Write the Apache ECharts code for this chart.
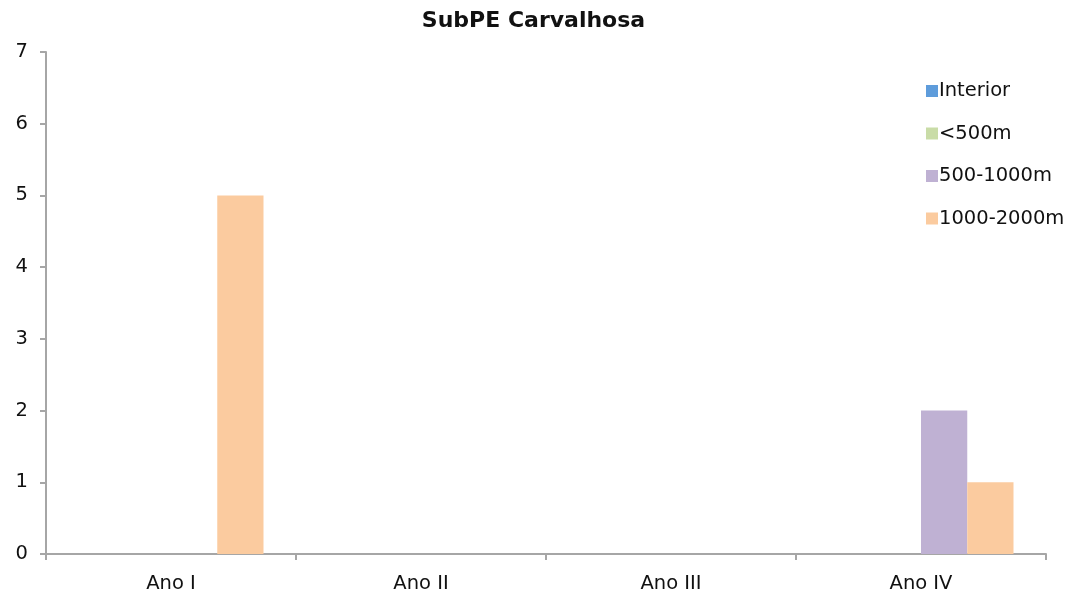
<!DOCTYPE html>
<html>
<head>
<meta charset="utf-8" />
<title>SubPE Carvalhosa</title>
<script src="https://cdn.jsdelivr.net/npm/echarts@6/dist/echarts.min.js"></script>
<style>
  html, body { margin: 0; padding: 0; background: #fff; }
  #main { width: 1067px; height: 594px; }
</style>
</head>
<body>
<div id="main"></div>
<script>
// categorias e valores
var anos = ['Ano I', 'Ano II', 'Ano III', 'Ano IV'];
var interior = [0, 0, 0, 0];
var ate500 = [0, 0, 0, 0];
var de500a1000 = [0, 0, 0, 2];
var de1000a2000 = [5, 0, 0, 1];

var fonte = '"DejaVu Sans", sans-serif';
var eixoCor = '#a6a6a6';

var myChart = echarts.init(document.getElementById('main'));

function serie(nome, dados, cor) {
	return {
		name: nome,
		type: 'bar',
		data: dados,
		barGap: '0%',
		barCategoryGap: '26%',
		itemStyle: { color: cor }
	};
}

myChart.setOption({
	animation: false,
	title: {
		text: 'SubPE Carvalhosa',
		left: 'center',
		top: 5,
		textStyle: { fontFamily: fonte, fontSize: 22, fontWeight: 'bold', color: '#111' }
	},
	legend: {
		orient: 'vertical',
		left: 921,
		top: 76,
		itemWidth: 12,
		itemHeight: 12,
		itemGap: 22.5,
		icon: 'rect',
		textStyle: { fontFamily: fonte, fontSize: 19.5, color: '#111', padding: [0, 0, 0, -4] },
		data: ['Interior', '<500m', '500-1000m', '1000-2000m']
	},
	grid: { left: 46, right: 21, top: 52, bottom: 40, containLabel: false },
	xAxis: {
		type: 'category',
		data: anos,
		axisLine: { lineStyle: { color: eixoCor, width: 2 } },
		axisTick: { show: true, length: 6, inside: false, lineStyle: { color: eixoCor, width: 2 } },
		axisLabel: { fontFamily: fonte, fontSize: 19.5, color: '#111', margin: 20 }
	},
	yAxis: {
		type: 'value',
		min: 0,
		max: 7,
		interval: 1,
		axisLine: { show: true, lineStyle: { color: eixoCor, width: 2 } },
		axisTick: { show: true, length: 6, lineStyle: { color: eixoCor, width: 2 } },
		splitLine: { show: false },
		axisLabel: { fontFamily: fonte, fontSize: 19.5, color: '#111', margin: 18 }
	},
	series: [
		serie('Interior', interior, '#5e9cdb'),
		serie('<500m', ate500, '#c9dca7'),
		serie('500-1000m', de500a1000, '#bfb1d3'),
		serie('1000-2000m', de1000a2000, '#fbcb9f')
	]
});

window.onresize = function() {
	myChart.resize();
};
</script>
</body>
</html>
